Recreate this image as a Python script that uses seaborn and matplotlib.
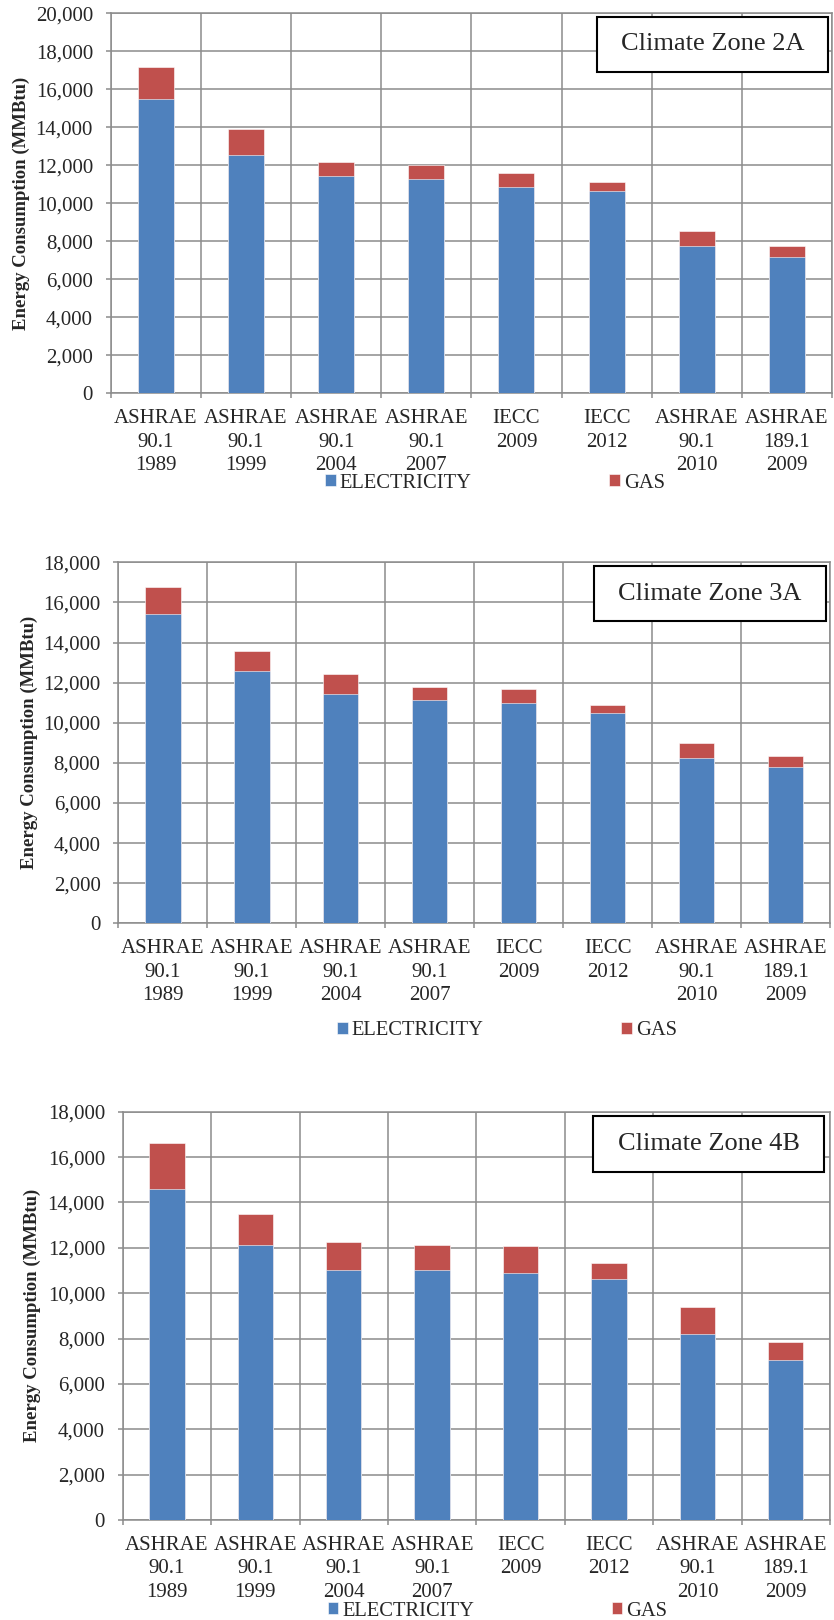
import matplotlib
matplotlib.use("Agg")
import matplotlib.pyplot as plt
import matplotlib.ticker as mticker
from matplotlib.patches import Rectangle
import numpy as np
import pandas as pd
import seaborn as sns

# ---------------- data ----------------
categories = ["ASHRAE\n90.1\n1989", "ASHRAE\n90.1\n1999", "ASHRAE\n90.1\n2004",
              "ASHRAE\n90.1\n2007", "IECC\n2009", "IECC\n2012",
              "ASHRAE\n90.1\n2010", "ASHRAE\n189.1\n2009"]

zone_titles = ["Climate Zone 2A", "Climate Zone 3A", "Climate Zone 4B"]

elec_2a = [15480, 12560, 11450, 11280, 10860, 10650, 7760, 7200]
gas_2a = [1720, 1340, 720, 730, 730, 470, 790, 540]

elec_3a = [15400, 12600, 11420, 11120, 10970, 10470, 8220, 7770]
gas_3a = [1350, 970, 1010, 660, 700, 400, 760, 550]

elec_4b = [14600, 12140, 11030, 11000, 10890, 10620, 8200, 7070]
gas_4b = [2010, 1370, 1230, 1110, 1170, 700, 1180, 770]

ymax_list = [20000, 18000, 18000]
series_labels = ["ELECTRICITY", "GAS"]
ylabel = "Energy Consumption (MMBtu)"

# ---------------- style ----------------
sns.set_style("white")
plt.rcParams["font.family"] = ["Liberation Serif", "DejaVu Serif"]

BLUE = "#4F81BD"
RED = "#C0504D"
GRID = "#8c8c8c"

W, H = 834, 1620
fig = plt.figure(figsize=(W / 100, H / 100), dpi=100)

# axes boxes in pixels: left, right, top, bottom
boxes = [(110.7, 832, 13.3, 393.3),
         (118.3, 830, 562.3, 923.3),
         (122.7, 830, 1111.7, 1520)]
title_boxes = [(0.6746, 0.9945, 0.8463, 0.9895),
               (0.6684, 0.9944, 0.8366, 0.9884),
               (0.6650, 0.9915, 0.8528, 0.9885)]
ylabel_x = [21, 29, 32]
legend_centers = [(495, 483), (507, 1030.7), (497.5, 1611)]

datasets = [(elec_2a, gas_2a), (elec_3a, gas_3a), (elec_4b, gas_4b)]

for i, (elec, gas) in enumerate(datasets):
    l, r, t, b = boxes[i]
    ax = fig.add_axes([l / W, 1 - b / H, (r - l) / W, (b - t) / H])
    df = pd.DataFrame({"cat": categories, "elec": elec, "gas": gas})
    df["total"] = df["elec"] + df["gas"]

    sns.barplot(data=df, x="cat", y="total", color=RED, saturation=1, width=0.4,
                edgecolor="white", linewidth=0.4, label=series_labels[1], ax=ax, zorder=3)
    sns.barplot(data=df, x="cat", y="elec", color=BLUE, saturation=1, width=0.4,
                edgecolor="white", linewidth=0.4, label=series_labels[0], ax=ax, zorder=3)

    ax.set_xlim(-0.5, len(categories) - 0.5)
    ax.set_ylim(0, ymax_list[i])
    ax.yaxis.set_major_locator(mticker.MultipleLocator(2000))
    ax.yaxis.set_major_formatter(mticker.FuncFormatter(lambda v, p: f"{int(v):,}"))
    ax.set_xlabel("")

    # gridlines
    ax.set_axisbelow(True)
    ax.yaxis.grid(True, color=GRID, linewidth=1.1)
    ax.set_xticks(np.arange(-0.5, len(categories), 1.0), minor=True)
    ax.xaxis.grid(True, which="minor", color=GRID, linewidth=1.1)
    ax.xaxis.grid(False, which="major")

    for s in ax.spines.values():
        s.set_color(GRID)
        s.set_linewidth(1.1)

    ax.tick_params(axis="y", which="major", direction="out", length=3.4, width=1.1,
                   color=GRID, pad=9.4, labelsize=15, left=True)
    ax.tick_params(axis="x", which="major", length=0, pad=11.5, labelsize=15)
    ax.tick_params(axis="x", which="minor", direction="out", length=3.8, width=1.1,
                   color=GRID, bottom=True)
    for lab in ax.get_xticklabels():
        lab.set_linespacing(1.32)

    ax.set_ylabel(ylabel, fontsize=13.5, fontweight="bold", va="center")
    ax.yaxis.set_label_coords((ylabel_x[i] - l) / (r - l), 0.5)

    # title box
    x0, x1, y0, y1 = title_boxes[i]
    ax.add_patch(Rectangle((x0, y0), x1 - x0, y1 - y0, transform=ax.transAxes,
                           facecolor="white", edgecolor="black", linewidth=1.5,
                           zorder=10, clip_on=False))
    ax.text((x0 + x1) / 2, (y0 + y1) / 2, zone_titles[i], transform=ax.transAxes,
            ha="center", va="center", fontsize=19, zorder=11)

    # legend
    handles, labels = ax.get_legend_handles_labels()
    order = [labels.index(s) for s in series_labels]
    cx, cy = legend_centers[i]
    ax.legend([handles[k] for k in order], [labels[k] for k in order],
              loc="center", bbox_to_anchor=(cx / W, 1 - cy / H),
              bbox_transform=fig.transFigure, ncol=2, frameon=False,
              fontsize=14.8, handlelength=0.5, handleheight=0.5,
              handletextpad=0.2, columnspacing=6.7, borderpad=0, borderaxespad=0)

fig.savefig("out.png", dpi=100)
